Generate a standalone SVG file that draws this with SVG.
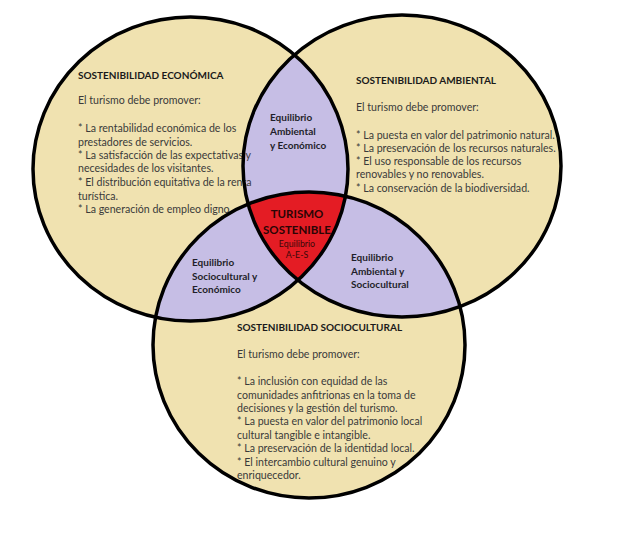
<svg xmlns="http://www.w3.org/2000/svg" width="640" height="534" viewBox="0 0 640 534">
<defs>
<ellipse id="eA" cx="190.5" cy="169" rx="157.5" ry="152"/>
<ellipse id="eB" cx="402" cy="166" rx="159" ry="151"/>
<ellipse id="eC" cx="309" cy="345" rx="156" ry="153"/>
<clipPath id="cA"><use href="#eA"/></clipPath>
<clipPath id="cB"><use href="#eB"/></clipPath>
</defs>
<style>
.beige{fill:#F0E2B0}
.lav{fill:#C6BEE5}
.red{fill:#E41C24}
.ring{fill:none;stroke:#000;stroke-width:3.5}
text{font-family:Lato,"Liberation Sans",sans-serif}
.h{font-size:10px;font-weight:bold;fill:#1a1a1a}
.b{font-size:10.6px;fill:#3a3a3a}
.l{font-size:10px;font-weight:bold;fill:#1f1f2a}
.t{font-size:11.5px;font-weight:bold;fill:#2a0505;text-anchor:middle}
.s{font-size:8.8px;fill:#3a0808;text-anchor:middle}
</style>
<rect width="640" height="534" fill="#fff"/>
<g id="fills">
<use href="#eA" class="beige"/>
<use href="#eB" class="beige"/>
<use href="#eC" class="beige"/>
<g clip-path="url(#cA)"><use href="#eB" class="lav"/><use href="#eC" class="lav"/></g>
<g clip-path="url(#cB)"><use href="#eC" class="lav"/></g>
<g clip-path="url(#cA)"><g clip-path="url(#cB)"><use href="#eC" class="red"/></g></g>
</g>
<g id="economica">
<text class="h" x="78" y="79">SOSTENIBILIDAD ECONÓMICA</text>
<text class="b" x="78" y="104">El turismo debe promover:</text>
<text class="b" x="78" y="132">* La rentabilidad económica de los</text>
<text class="b" x="78" y="146">prestadores de servicios.</text>
<text class="b" x="78" y="159">* La satisfacción de las expectativas y</text>
<text class="b" x="78" y="172">necesidades de los visitantes.</text>
<text class="b" x="78" y="186">* El distribución equitativa de la renta</text>
<text class="b" x="78" y="200">turística.</text>
<text class="b" x="78" y="213">* La generación de empleo digno.</text>
</g>
<g id="ambiental">
<text class="h" x="356" y="84">SOSTENIBILIDAD AMBIENTAL</text>
<text class="b" x="356" y="111">El turismo debe promover:</text>
<text class="b" x="356" y="139">* La puesta en valor del patrimonio natural.</text>
<text class="b" x="356" y="152">* La preservación de los recursos naturales.</text>
<text class="b" x="356" y="165">* El uso responsable de los recursos</text>
<text class="b" x="356" y="178">renovables y no renovables.</text>
<text class="b" x="356" y="192">* La conservación de la biodiversidad.</text>
</g>
<g id="sociocultural">
<text class="h" x="237" y="331">SOSTENIBILIDAD SOCIOCULTURAL</text>
<text class="b" x="237" y="358">El turismo debe promover:</text>
<text class="b" x="237" y="385">* La inclusión con equidad de las</text>
<text class="b" x="237" y="399">comunidades anfitrionas en la toma de</text>
<text class="b" x="237" y="412">decisiones y la gestión del turismo.</text>
<text class="b" x="237" y="425">* La puesta en valor del patrimonio local</text>
<text class="b" x="237" y="439">cultural tangible e intangible.</text>
<text class="b" x="237" y="452">* La preservación de la identidad local.</text>
<text class="b" x="237" y="466">* El intercambio cultural genuino y</text>
<text class="b" x="237" y="479">enriquecedor.</text>
</g>
<g id="eq-amb-eco">
<text class="l" x="270" y="121">Equilibrio</text>
<text class="l" x="270" y="135">Ambiental</text>
<text class="l" x="270" y="149">y Económico</text>
</g>
<g id="eq-soc-eco">
<text class="l" x="192" y="266">Equilibrio</text>
<text class="l" x="192" y="280">Sociocultural y</text>
<text class="l" x="192" y="293">Económico</text>
</g>
<g id="eq-amb-soc">
<text class="l" x="351" y="261">Equilibrio</text>
<text class="l" x="351" y="275">Ambiental y</text>
<text class="l" x="351" y="288">Sociocultural</text>
</g>
<g id="turismo-sostenible">
<text class="t" x="297" y="218">TURISMO</text>
<text class="t" x="297" y="234">SOSTENIBLE</text>
<text class="s" x="297" y="247">Equilibrio</text>
<text class="s" x="297" y="258">A-E-S</text>
</g>
<g id="outlines">
<use href="#eA" class="ring"/>
<use href="#eB" class="ring"/>
<use href="#eC" class="ring"/>
</g>
</svg>
